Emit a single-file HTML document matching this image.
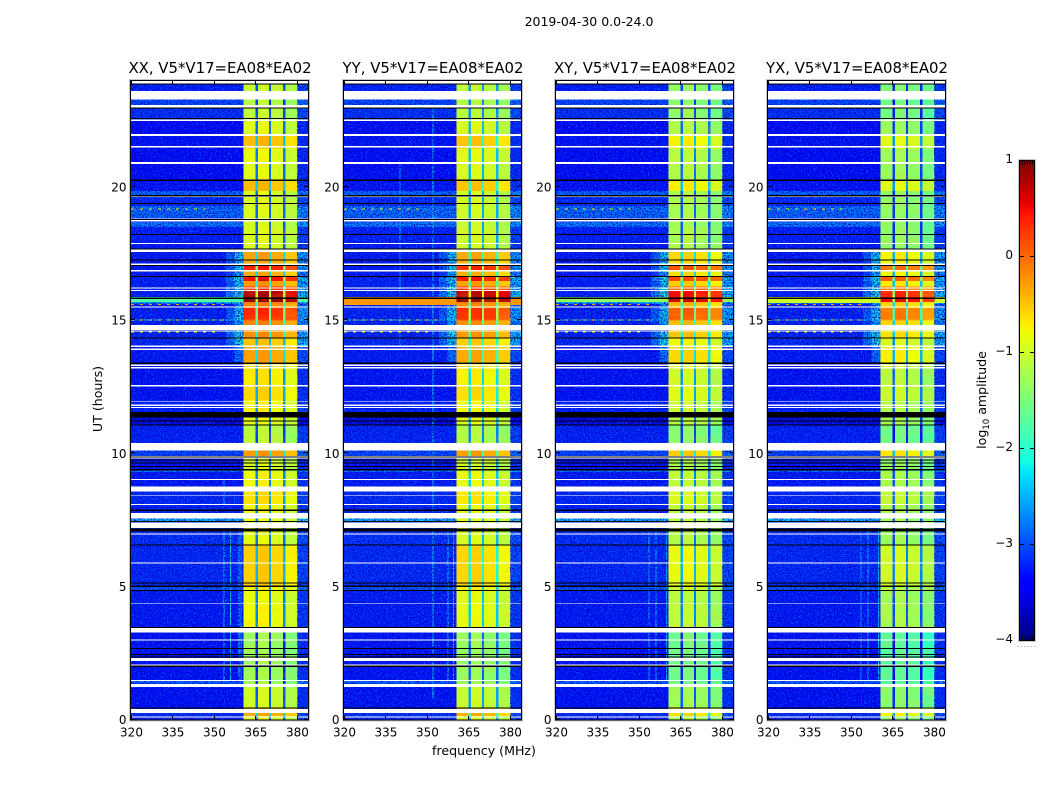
<!DOCTYPE html>
<html>
<head>
<meta charset="utf-8">
<title>2019-04-30 spectrogram</title>
<style>
html,body{margin:0;padding:0;background:#fff;}
svg{display:block;}
text{font-family:"DejaVu Sans","Liberation Sans",sans-serif;fill:#000;}
</style>
</head>
<body>
<svg id="chart" xmlns="http://www.w3.org/2000/svg" width="1050" height="800" viewBox="0 0 1050 800">
  <defs>
    <filter id="speckle" x="0" y="0" width="1" height="1" color-interpolation-filters="sRGB">
      <feTurbulence type="fractalNoise" baseFrequency="0.62" numOctaves="2" seed="4"/>
      <feColorMatrix type="matrix" values="0 0 0 0 0  0 0 0 0 0.45  0 0 0 0 1  3.2 0 0 0 -1.58"/>
    </filter>
    <filter id="speckle-dark" x="0" y="0" width="1" height="1" color-interpolation-filters="sRGB">
      <feTurbulence type="fractalNoise" baseFrequency="0.7" numOctaves="2" seed="11"/>
      <feColorMatrix type="matrix" values="0 0 0 0 0  0 0 0 0 0  0 0 0 0 0.78  3.2 0 0 0 -1.32"/>
    </filter>
    <filter id="band-mottle" x="0" y="0" width="1" height="1" color-interpolation-filters="sRGB">
      <feTurbulence type="fractalNoise" baseFrequency="0.05 0.14" numOctaves="3" seed="7"/>
      <feColorMatrix type="matrix" values="0 0 0 0 1  0 0 0 0 0.75  0 0 0 0 0  2.4 0 0 0 -1.0"/>
    </filter>
  </defs>
  <text x="589" y="26" font-size="12.5" text-anchor="middle">2019-04-30 0.0-24.0</text>
  <text transform="translate(102,399) rotate(-90)" font-size="12.6" text-anchor="middle">UT (hours)</text>
  <text x="484" y="755" font-size="12.6" text-anchor="middle">frequency (MHz)</text>
  <text transform="translate(986,400) rotate(-90)" font-size="12.6" text-anchor="middle">log<tspan font-size="8.5" dy="3">10</tspan><tspan dy="-3"> amplitude</tspan></text>
  <g id="panels"></g>
  <g id="colorbar"></g>
</svg>
<script>
// ---- data (log10 amplitude, UT hours, MHz) ----
const panelTitles = ["XX, V5*V17=EA08*EA02","YY, V5*V17=EA08*EA02","XY, V5*V17=EA08*EA02","YX, V5*V17=EA08*EA02"];
const freqTicks = [320,335,350,365,380];
const utTicks = [0,5,10,15,20];
const colorbarTicks = [1,0,-1,-2,-3,-4];

const rowEdgesUT = [24.00,23.60,23.08,22.52,21.99,21.46,20.90,20.26,19.85,19.62,
  19.29,19.06,18.84,18.69,18.50,17.90,17.56,17.30,17.07,16.88,
  16.66,16.47,16.28,16.10,15.87,15.68,15.63,15.46,15.04,14.99,
  14.59,14.33,14.03,13.43,13.20,12.53,12.00,11.55,11.35,11.06,
  10.42,10.12,9.90,9.37,9.30,8.77,8.59,8.10,7.80,7.57,
  7.46,6.56,5.02,4.87,4.34,3.48,2.46,2.24,1.45,1.37,
  0.47,0.14,0];
const rowBackground = [-3.2,-2.95,-3.1,-3.35,-3.3,-3.35,-3.35,-3.3,-2.75,-3.15,
  -2.7,-2.75,-3.2,-2.65,-3.2,-3.25,-3.25,-3.25,-3.25,-3.25,
  -3.2,-3.2,-3.2,-3.2,-1.9,-2.2,-3.2,-3.2,-2.2,-3.2,
  -3.2,-3.15,-3.25,-3.25,-3.3,-3.3,-3.2,-3.8,-3.6,-3.2,
  -3,-2.95,-3.3,-2.7,-3.25,-3.1,-3.15,-3.2,-3.2,-2.3,
  -3.1,-3.15,-2.85,-3.25,-3.25,-3.3,-3.3,-3.3,-2.75,-3.3,
  -3.1,-3.2];
const rowBand = [-1.1,-1.2,-1.15,-0.95,-0.5,-0.9,-0.95,-0.5,-1,-1,
  -1,-1,-1,-1.05,-1,-1,-0.35,-0.4,0.35,-0.4,
  0.45,-0.3,0.3,0.75,0.95,-0.1,-0.2,0.3,0.1,-0.2,
  -0.25,-0.55,-0.35,-0.6,-0.75,-0.65,-0.8,-0.9,-0.9,-1.2,
  -1,-0.3,-1,-1,-0.85,-1,-0.7,-0.85,-0.9,-0.9,
  -0.95,-0.6,-0.8,-0.9,-0.85,-1.35,-1.35,-1.35,-1.4,-1.05,
  -0.4,-1];
const rowShoulder = [null,null,null,null,null,null,null,null,null,null,
  null,null,null,null,null,null,-2.2,-2.3,-2.2,-2.4,
  -2,-2.2,-2.1,-2,-1.8,-2,-2.6,-2.2,-2.2,-2.4,
  -2.1,-2.1,-2.7,null,null,null,null,null,null,null,
  null,null,null,null,null,null,null,null,null,null,
  null,null,null,null,null,null,null,null,null,null,
  null,null];

const colEdgesMHz = [320,354.3,357.5,360.6,365,366,369.9,370.7,375,375.8,380.2,384];
const colKinds = ["bg","sh1","sh2","band","gap","band","gap","band","gap","band","right"];
const colBandShift = [0,0,0,0.05,0,0.1,0,0,0,-0.15,0];

const panelBandShift = [0,-0.05,-0.3,-0.45];
const panelGapShift = [-1.9,-1.5,-1.6,-1.7];
const panelBackgroundShift = [0,0.02,0,0];

const stripeStartUT = 15.87;
const stripeEndUT = [15.68,15.58,15.68,15.66];
const stripeBackground = [-1.75,-0.25,-1.35,-1.0];

const rfiPanel = [0,0,0,0,0,1,1,1,1,2,2,2,3,3,3];
const rfiFreq = [353.4,355.8,358.9,359.6,353.4,340,352,357.5,359.5,353.5,356,359.8,353.5,356,359.8];
const rfiFromUT = [1.5,1.5,1.5,1.5,8.1,14,0.8,1.5,1.5,1.5,1.5,1.5,1.5,1.5,1.5];
const rfiToUT = [7.3,7.3,7.3,7.3,9.0,21,23,7.3,7.3,7.3,7.3,7.3,7.3,7.3,7.3];
const rfiLevel = [-2.2,-2.1,-2.1,-2.3,-2.4,-2.4,-2.2,-2.2,-2.2,-2.4,-2.3,-2.3,-2.4,-2.3,-2.3];

const flareUT = [19.2,15.62,15.04,14.59];
const flareFromMHz = [320,320,320,320];
const flareToMHz = [347,354,354,352];
const flareLevel = [-0.7,-0.3,-0.6,-0.8];

const flaggedStartUT = [24.00,23.61,23.08,22.55,21.99,21.55,20.94,19.68,18.83,17.90,17.67,17.13,16.89,16.23,16.14,15.52,14.82,14.62,14.05,13.94,13.35,13.24,12.58,11.96,11.84,11.74,10.40,9.90,9.05,8.77,8.43,8.11,7.76,7.41,7.19,7.00,5.91,4.37,3.46,3.02,2.33,2.08,1.49,1.35,0.40,0.12];
const flaggedEndUT   = [23.87,23.29,23.00,22.49,21.92,21.50,20.88,19.63,18.72,17.86,17.56,17.08,16.84,16.20,16.10,15.48,14.63,14.58,14.00,13.89,13.28,13.20,12.51,11.93,11.79,11.70,10.12,9.82,9.01,8.58,8.40,8.07,7.55,7.21,7.15,6.96,5.87,4.34,3.27,2.98,2.20,2.04,1.45,1.23,0.25,0.09];

const deadStartUT = [23.89,23.00,22.60,20.28,19.70,19.40,18.81,18.24,17.70,17.29,17.08,16.66,15.85,14.35,13.41,11.55,11.24,11.09,9.89,9.78,9.66,9.53,9.41,7.89,7.46,7.19,7.14,6.58,5.15,5.05,4.87,3.48,2.70,2.48,2.38,2.03,0.47];
const deadEndUT   = [23.85,22.96,22.56,20.24,19.66,19.36,18.77,18.20,17.66,17.25,17.04,16.62,15.81,14.31,13.37,11.36,11.20,11.05,9.85,9.74,9.62,9.49,9.37,7.85,7.42,7.15,7.08,6.54,5.11,4.98,4.83,3.44,2.66,2.44,2.34,1.99,0.43];

// ---- scales ----
const NS = "http://www.w3.org/2000/svg";
const panelLeftEdge = [131,344,556,768];
const pxPerMHz = 177 / 64;
const pxPerHour = 26.63;
function xScale(panel, mhz){ return panelLeftEdge[panel] + (mhz - 320) * pxPerMHz; }
function yScale(ut){ return 719.8 - ut * pxPerHour; }
function cbScale(v){ return 640 - (v + 4) * 96; }
function jetPart(t, stops){
  for (let i = 1; i < stops.length; i++) {
    if (t <= stops[i][0]) {
      const a = stops[i-1], b = stops[i];
      return a[1] + (b[1] - a[1]) * (t - a[0]) / (b[0] - a[0]);
    }
  }
  return stops[stops.length-1][1];
}
const jetR = [[0,0],[0.35,0],[0.66,1],[0.89,1],[1,0.5]];
const jetG = [[0,0],[0.125,0],[0.375,1],[0.64,1],[0.91,0],[1,0]];
const jetB = [[0,0.5],[0.11,1],[0.34,1],[0.65,0],[1,0]];
function jet(v){
  const t = Math.max(0, Math.min(1, (v + 4) / 5));
  const c = [jetR, jetG, jetB].map(s => Math.round(255 * jetPart(t, s)));
  return "rgb(" + c.join(",") + ")";
}
function cellValue(panel, row, col){
  const kind = colKinds[col];
  const bg = rowBackground[row] + panelBackgroundShift[panel];
  const band = rowBand[row] + panelBandShift[panel];
  const sh = rowShoulder[row];
  if (kind === "bg") return bg;
  if (kind === "sh1") return sh === null ? bg : Math.max(bg, sh - 0.6);
  if (kind === "sh2") return sh === null ? bg : Math.max(bg, sh);
  if (kind === "band") return band + colBandShift[col];
  if (kind === "gap") return band + panelGapShift[panel];
  return sh === null ? bg + 0.2 : Math.max(bg, sh - 0.2);
}
function mk(tag, parent, attrs){
  const el = document.createElementNS(NS, tag);
  for (const k in attrs) el.setAttribute(k, attrs[k]);
  parent.appendChild(el);
  return el;
}

// ---- panels ----
const panelsRoot = document.getElementById("panels");
panelTitles.forEach(function(title, p){
  const left = xScale(p, 320), right = xScale(p, 384);
  const top = yScale(24), bottom = yScale(0);
  const g = mk("g", panelsRoot, {});
  
  

  const clipId = "clip" + p;
  const defs = mk("clipPath", g, {id: clipId});
  mk("rect", defs, {x: left, y: top, width: right - left, height: bottom - top});
  const plot = mk("g", g, {"clip-path": "url(#" + clipId + ")", "shape-rendering": "crispEdges"});
  
  

  for (let r = 0; r < rowBand.length; r++) {
    for (let c = 0; c < colKinds.length; c++) {
      const x0 = xScale(p, colEdgesMHz[c]), x1 = xScale(p, colEdgesMHz[c+1]);
      const y0 = yScale(rowEdgesUT[r]), y1 = yScale(rowEdgesUT[r+1]);
      const cell = mk("rect", plot, {x: x0, y: y0, width: x1 - x0 + 0.4, height: y1 - y0 + 0.4, fill: jet(cellValue(p, r, c))});
      
      
    }
  }
  rfiFreq.forEach(function(f, i){
    if (rfiPanel[i] !== p) return;
    const line = mk("rect", plot, {x: xScale(p, f), y: yScale(rfiToUT[i]), width: 1, height: yScale(rfiFromUT[i]) - yScale(rfiToUT[i]), fill: jet(rfiLevel[i])});
    
    
  });

  // receiver noise texture on the out-of-band regions, soft mottling inside the band
  [[320,360.6],[380.2,384]].forEach(function(span){
    ["speckle","speckle-dark"].forEach(function(fid){
      const tex = mk("rect", plot, {x: xScale(p, span[0]), y: top, width: xScale(p, span[1]) - xScale(p, span[0]), height: bottom - top, fill: "#000", filter: "url(#" + fid + ")"});
      
      
    });
  });
  const mottle = mk("rect", plot, {x: xScale(p, 360.6), y: top, width: xScale(p, 380.2) - xScale(p, 360.6), height: bottom - top, fill: "#000", filter: "url(#band-mottle)", opacity: 0.2});
  
  

  // broadband interference stripe across the out-of-band regions
  [[320,360.6],[380.2,384]].forEach(function(span){
    const s = mk("rect", plot, {x: xScale(p, span[0]), y: yScale(stripeStartUT), width: xScale(p, span[1]) - xScale(p, span[0]), height: yScale(stripeEndUT[p]) - yScale(stripeStartUT), fill: jet(stripeBackground[p])});
    
    
  });
  flareUT.forEach(function(u, i){
    const ly = yScale(u) + 0.5;
    const line = mk("line", plot, {x1: xScale(p, flareFromMHz[i]), x2: xScale(p, flareToMHz[i]), y1: ly, y2: ly, stroke: jet(flareLevel[i]), "stroke-width": 1, "stroke-dasharray": "3 6"});
    
    
  });

  flaggedStartUT.forEach(function(u, i){
    const band = mk("rect", plot, {x: left, y: yScale(u), width: right - left, height: yScale(flaggedEndUT[i]) - yScale(u), fill: "#fff"});
    
    
  });
  deadStartUT.forEach(function(u, i){
    const band = mk("rect", plot, {x: left, y: yScale(u), width: right - left, height: yScale(deadEndUT[i]) - yScale(u), fill: "#000"});
    
    
  });

  const halo = mk("rect", g, {x: Math.round(left) - 1.5, y: 79.5, width: Math.round(right - left) + 3, height: 641.5, fill: "none", stroke: "#c8c8c8", "stroke-width": 1});
  
  
  const frame = mk("rect", g, {x: Math.round(left) - 0.5, y: 80.5, width: Math.round(right - left) + 1, height: 639.5, fill: "none", stroke: "#000", "stroke-width": 1});
  
  

  freqTicks.forEach(function(f){
    const x = Math.round(xScale(p, f)) + 0.5;
    const t1 = mk("line", g, {x1: x, x2: x, y1: 720, y2: 716, stroke: "#000"});
    
    
    const t2 = mk("line", g, {x1: x, x2: x, y1: 81, y2: 85, stroke: "#000"});
    
    
    const lab = mk("text", g, {x: xScale(p, f) + 0.5, y: 736.5, "font-size": 12, "text-anchor": "middle"});
    lab.textContent = f;
    
    
  });
  utTicks.forEach(function(u){
    const y = Math.round(yScale(u)) - 0.5;
    const t1 = mk("line", g, {x1: left, x2: left + 4, y1: y, y2: y, stroke: "#000"});
    
    
    const t2 = mk("line", g, {x1: right, x2: right - 4, y1: y, y2: y, stroke: "#000"});
    
    
    const lab = mk("text", g, {x: left - 4.5, y: yScale(u) + 4.3, "font-size": 12, "text-anchor": "end"});
    lab.textContent = u;
    
    
  });
  const tt = mk("text", g, {x: (left + right) / 2 + 0.5, y: 73, "font-size": 14.9, "text-anchor": "middle"});
  tt.textContent = title;
  
  
});

// ---- colorbar ----
const cb = document.getElementById("colorbar");
for (let v = -4; v < 0.99; v += 0.025) {
  const s = mk("rect", cb, {x: 1019, y: cbScale(v + 0.025), width: 16, height: 2.9, fill: jet(v + 0.0125), "shape-rendering": "crispEdges"});
  
  
}
const cbFrame = mk("rect", cb, {x: 1019.5, y: 160.5, width: 15, height: 480, fill: "none", stroke: "#000"});


const cbHalo = mk("rect", cb, {x: 1018.5, y: 159.5, width: 17, height: 482, fill: "none", stroke: "#c8c8c8"});


colorbarTicks.forEach(function(v){
  const y = Math.round(cbScale(v)) + 0.5;
  if (v > -4 && v < 1) {
    const t1 = mk("line", cb, {x1: 1020, x2: 1024, y1: y, y2: y, stroke: "#000"});
    
    
    const t2 = mk("line", cb, {x1: 1034, x2: 1030, y1: y, y2: y, stroke: "#000"});
    
    
  }
  const lab = mk("text", cb, {x: 1013, y: cbScale(v) + 3, "font-size": 12, "text-anchor": "end"});
  lab.textContent = v < 0 ? "\u2212" + Math.abs(v) : String(v);
  
  
});
for (let i = 0; i < 5; i++) {
  const x = 1022.5 + i * 2.5;
  [[161,165],[640,636]].forEach(function(pair){
    const t = mk("line", cb, {x1: x, x2: x, y1: pair[0], y2: pair[1], stroke: "#000", "stroke-width": 0.8});
    
    
  });
}
for (let i = 0; i < 6; i++) {
  const dot = mk("rect", cb, {x: 1017.5 + i * 3.4, y: 646, width: 1, height: 1, fill: "#999"});
  
  
}
</script>
</body>
</html>
